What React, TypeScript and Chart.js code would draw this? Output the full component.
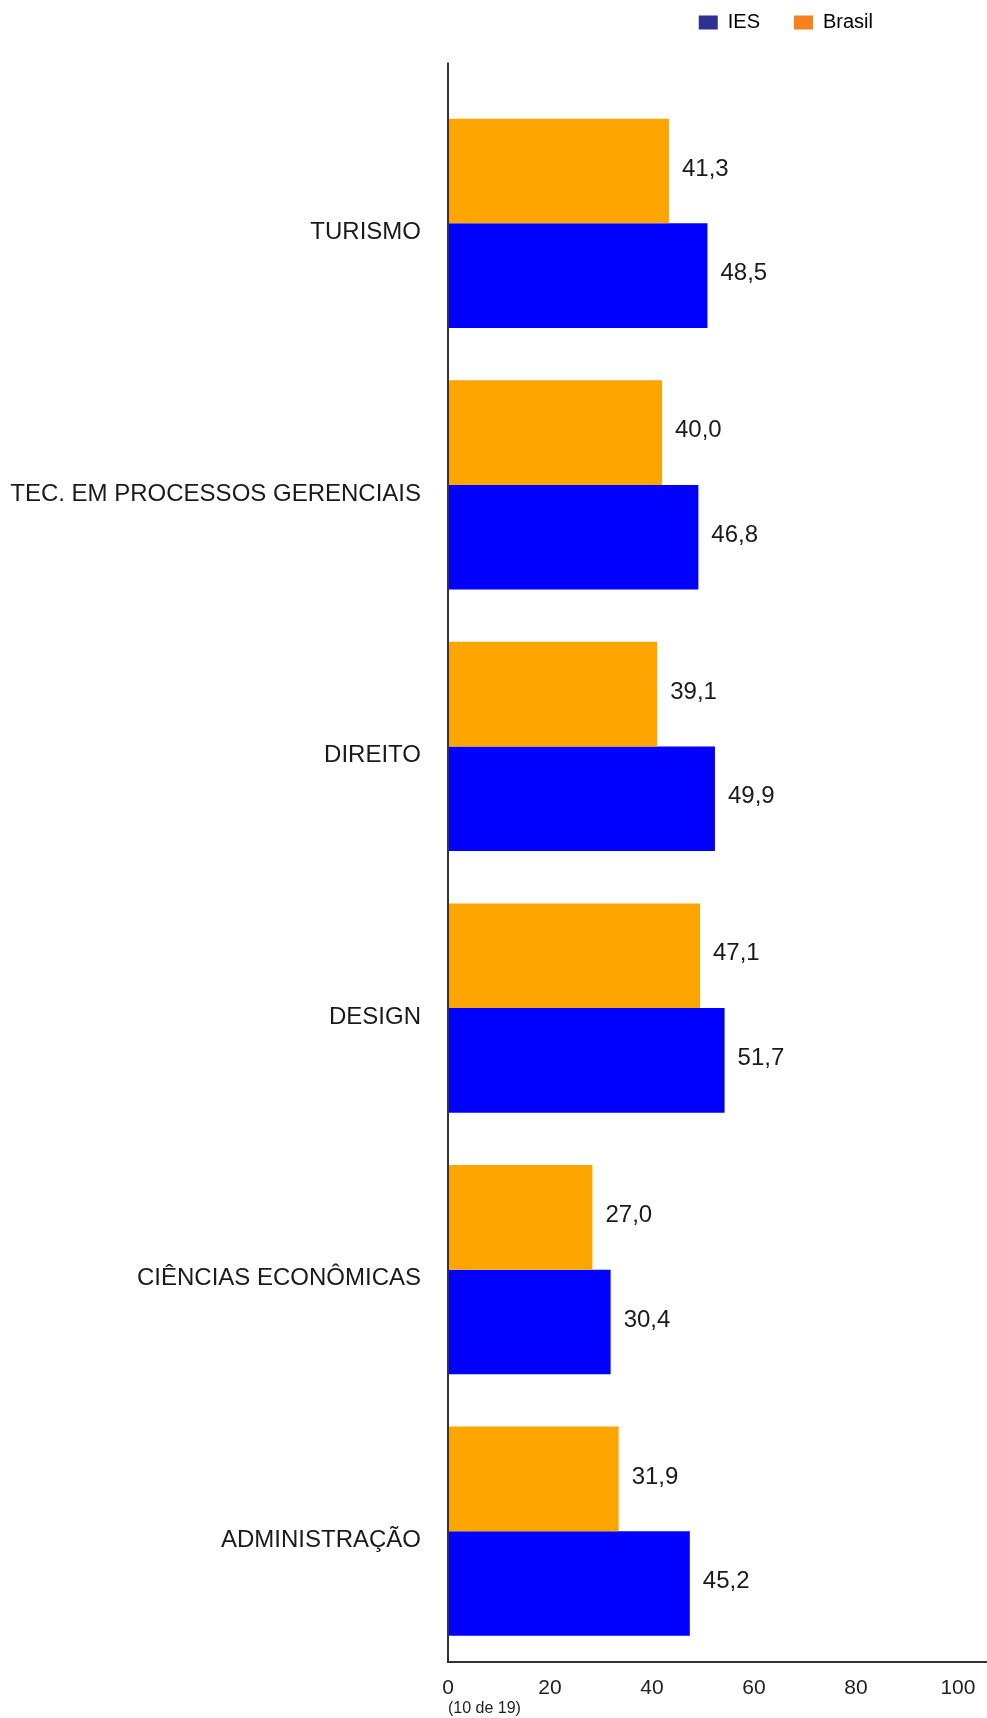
import React, { useEffect, useRef } from 'react';
import { Chart, registerables } from 'chart.js';

Chart.register(...registerables);

const categories = ['TURISMO', 'TEC. EM PROCESSOS GERENCIAIS', 'DIREITO', 'DESIGN', 'CIÊNCIAS ECONÔMICAS', 'ADMINISTRAÇÃO'];
const brasilValues = [41.3, 40.0, 39.1, 47.1, 27.0, 31.9];
const iesValues = [48.5, 46.8, 49.9, 51.7, 30.4, 45.2];
const xTickValues = [0, 20, 40, 60, 80, 100];
const axisNote = '(10 de 19)';
const legendNames = ['IES', 'Brasil'];

const FONT = '"Liberation Sans", Arial, Helvetica, sans-serif';
const IES_BAR = '#0000FF';
const BRASIL_BAR = '#FFA500';
const IES_LEGEND = '#2E3192';
const BRASIL_LEGEND = '#F5821F';
const AXIS_COLOR = '#333333';

const fmt = (v: number) => v.toFixed(1).replace('.', ',');

const valueLabels = {
  id: 'valueLabels',
  afterDatasetsDraw(chart: any) {
    const ctx = chart.ctx;
    ctx.save();
    ctx.font = `24px ${FONT}`;
    ctx.fillStyle = '#1a1a1a';
    ctx.textAlign = 'left';
    ctx.textBaseline = 'middle';
    chart.data.datasets.forEach((ds: any, di: number) => {
      const meta = chart.getDatasetMeta(di);
      meta.data.forEach((el: any, i: number) => {
        ctx.fillText(fmt(ds.data[i]), el.x + 13, el.y - 2);
      });
    });
    ctx.restore();
  },
};

const axisLines = {
  id: 'axisLines',
  afterDraw(chart: any) {
    const { ctx, chartArea } = chart;
    ctx.save();
    ctx.strokeStyle = AXIS_COLOR;
    ctx.lineWidth = 2;
    ctx.beginPath();
    ctx.moveTo(chartArea.left, chartArea.top - 30);
    ctx.lineTo(chartArea.left, chartArea.bottom + 1);
    ctx.stroke();
    ctx.restore();
  },
};

const legendPlace = {
  id: 'legendPlace',
  afterLayout(chart: any) {
    const lg = chart.legend;
    if (!lg) return;
    lg.top -= 50;
    lg.bottom -= 50;
    lg.right -= 80;
  },
};

export default function App() {
  const ref = useRef<HTMLCanvasElement | null>(null);

  useEffect(() => {
    if (!ref.current) return;
    const chart = new Chart(ref.current, {
      type: 'bar',
      data: {
        labels: categories,
        datasets: [
          { label: 'Brasil', data: brasilValues, backgroundColor: BRASIL_BAR, borderWidth: 0, barPercentage: 1, categoryPercentage: 0.8 },
          { label: 'IES', data: iesValues, backgroundColor: IES_BAR, borderWidth: 0, barPercentage: 1, categoryPercentage: 0.8 },
        ],
      },
      options: {
        indexAxis: 'y',
        responsive: false,
        animation: false,
        layout: { padding: { left: 10, right: 0, top: 28.5, bottom: 0 } },
        plugins: {
          tooltip: { enabled: false },
          legend: {
            position: 'top',
            align: 'end',
            labels: {
              boxWidth: 19,
              boxHeight: 14,
              padding: 34,
              color: '#222',
              font: { family: FONT, size: 20 },
              generateLabels: () => [
                { text: legendNames[0], fillStyle: IES_LEGEND, strokeStyle: IES_LEGEND, lineWidth: 0, hidden: false, datasetIndex: 1 },
                { text: legendNames[1], fillStyle: BRASIL_LEGEND, strokeStyle: BRASIL_LEGEND, lineWidth: 0, hidden: false, datasetIndex: 0 },
              ],
            },
          },
        },
        scales: {
          x: {
            type: 'linear',
            display: false,
            min: 0,
            max: 100.75,
          },
          x2: {
            type: 'linear',
            position: 'bottom',
            min: 0,
            max: 105.7,
            grid: { display: false, drawTicks: false },
            border: { display: true, color: AXIS_COLOR, width: 2 },
            ticks: {
              stepSize: 20,
              includeBounds: false,
              padding: 16,
              color: '#222',
              font: { family: FONT, size: 21, lineHeight: 1 },
              maxRotation: 0,
              autoSkip: false,
            },
            afterBuildTicks: (s: any) => {
              s.ticks = xTickValues.map((v) => ({ value: v }));
            },
            title: {
              display: true,
              text: axisNote,
              align: 'start',
              color: '#222',
              font: { family: FONT, size: 16, lineHeight: 1.2 },
              padding: { top: 2, bottom: 0 },
            },
            afterFit: (s: any) => {
              s.height = 56;
              s.paddingLeft = 0;
              s.paddingRight = 0;
            },
          },
          y: {
            type: 'category',
            grid: { display: false, drawTicks: false },
            border: { display: false },
            ticks: {
              padding: 27,
              labelOffset: 9,
              color: '#1a1a1a',
              font: { family: FONT, size: 24 },
              autoSkip: false,
            },
            afterFit: (s: any) => {
              s.width = 438;
            },
          },
        },
      },
      plugins: [valueLabels, axisLines, legendPlace],
    } as any);
    return () => chart.destroy();
  }, []);

  return (
    <div style={{ position: 'absolute', left: 0, top: 0, width: 987, height: 1718, background: '#fff' }}>
      <canvas ref={ref} width={987} height={1718} style={{ display: 'block' }} />
    </div>
  );
}
